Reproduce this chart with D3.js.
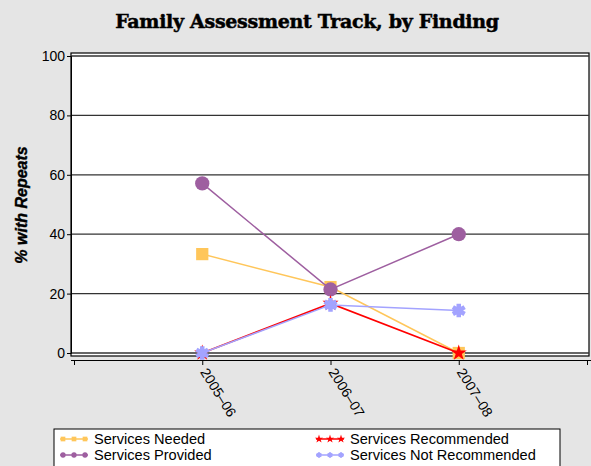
<!DOCTYPE html>
<html><head><meta charset="utf-8">
<script src="https://cdn.jsdelivr.net/npm/d3@7"></script>
<style>body{margin:0;background:#e5e5e5;}svg{display:block;}</style>
</head><body>
<script>
const categories = ["2005–06", "2006–07", "2007–08"];
const servicesNeeded = [33.3, 22.2, 0];
const servicesProvided = [57.1, 21.4, 40.0];
const servicesRecommended = [0, 16.7, 0];
const servicesNotRecommended = [0, 16.2, 14.3];
const yTicks = [0, 20, 40, 60, 80, 100];
const seriesNames = ["Services Needed", "Services Provided", "Services Recommended", "Services Not Recommended"];

const W = 591, H = 466;
const svg = d3.select("body").append("svg").attr("width", W).attr("height", H);
svg.append("rect").attr("width", W).attr("height", H).attr("fill", "#e5e5e5");

const y = d3.scaleLinear().domain([0, 100]).range([353, 56]);
const x = d3.scalePoint().domain(["", ...categories, " "]).range([74, 587]);

// plot area
svg.append("rect").attr("x", 71).attr("y", 53).attr("width", 518).attr("height", 303)
  .attr("fill", "#fff").attr("stroke", "#000").attr("stroke-width", 1.2);

// gridlines
svg.append("g").selectAll("line").data(yTicks).join("line")
  .attr("x1", 71).attr("x2", 589).attr("y1", d => y(d)).attr("y2", d => y(d))
  .attr("stroke", "#333").attr("stroke-width", 1.3);

// y axis
const yAxis = svg.append("g").attr("transform", "translate(71,0)")
  .call(d3.axisLeft(y).tickValues(yTicks).tickSize(4).tickPadding(2));
yAxis.select(".domain").attr("stroke", "#000");
yAxis.selectAll("text").attr("font-family", "Liberation Sans, Arial, sans-serif").attr("font-size", 14).attr("fill", "#000");

// x axis
const xAxis = svg.append("g").attr("transform", "translate(0,360)")
  .call(d3.axisBottom(x).tickSize(5).tickSizeOuter(0));
xAxis.select(".domain").attr("d", "M71,0.5H591").attr("stroke", "#000");
xAxis.selectAll("text").attr("font-family", "Liberation Sans, Arial, sans-serif").attr("font-size", 14).attr("fill", "#000")
  .attr("text-anchor", "start").attr("dy", null).attr("y", 0)
  .attr("transform", "translate(-3,12) rotate(58)");

// title
svg.append("text").attr("x", 307).attr("y", 28).attr("text-anchor", "middle")
  .attr("font-family", "DejaVu Serif, serif").attr("font-weight", "bold").attr("font-size", 19)
  .attr("letter-spacing", -0.3).attr("stroke", "#000").attr("stroke-width", 0.5)
  .text("Family Assessment Track, by Finding");

// y label
svg.append("text").attr("transform", "translate(27,205) rotate(-90)").attr("text-anchor", "middle")
  .attr("font-family", "Liberation Sans, Arial, sans-serif").attr("font-weight", "bold").attr("font-style", "italic")
  .attr("font-size", 16).attr("stroke", "#000").attr("stroke-width", 0.4).text("% with Repeats");

const colors = ["#ffc65a", "#9e5fa0", "#ff0000", "#a3a3ff"];
const symbols = [d3.symbolSquare, d3.symbolCircle, d3.symbolStar, d3.symbolAsterisk];
const sizes = [150, 160, 80, 130];
const data = [servicesNeeded, servicesProvided, servicesRecommended, servicesNotRecommended];

const line = d3.line().x((d, i) => x(categories[i])).y(d => y(d));
data.forEach((vals, s) => {
  const g = svg.append("g");
  g.append("path").datum(vals).attr("d", line).attr("fill", "none")
    .attr("stroke", colors[s]).attr("stroke-width", s === 2 ? 1.8 : 1.5);
  g.selectAll("path.m").data(vals).join("path").attr("class", "m")
    .attr("transform", (d, i) => `translate(${x(categories[i])},${y(d)})`)
    .attr("d", d3.symbol(symbols[s], sizes[s]))
    .attr("fill", colors[s]).attr("stroke", s === 3 ? colors[s] : "none").attr("stroke-width", s === 3 ? 4.5 : 0);
});

// legend
const lg = svg.append("g");
lg.append("rect").attr("x", 54).attr("y", 429).attr("width", 506).attr("height", 50)
  .attr("fill", "#fff").attr("stroke", "#000").attr("stroke-width", 1);
const pos = [[60, 439], [60, 455], [316, 439], [316, 455]];
[0, 1, 2, 3].forEach(s => {
  const [lx, ly] = pos[s];
  lg.append("line").attr("x1", lx).attr("x2", lx + 28).attr("y1", ly).attr("y2", ly)
    .attr("stroke", colors[s]).attr("stroke-width", 1.5);
  [lx + 3, lx + 14, lx + 25].forEach(px => {
    lg.append("path").attr("transform", `translate(${px},${ly})`)
      .attr("d", d3.symbol(symbols[s], 22)).attr("fill", colors[s])
      .attr("stroke", s === 3 ? colors[s] : "none").attr("stroke-width", s === 3 ? 2 : 0);
  });
  lg.append("text").attr("x", lx + 34).attr("y", ly + 5)
    .attr("font-family", "Liberation Sans, Arial, sans-serif").attr("font-size", 14.6)
    .text(seriesNames[s]);
});
</script>
</body></html>
